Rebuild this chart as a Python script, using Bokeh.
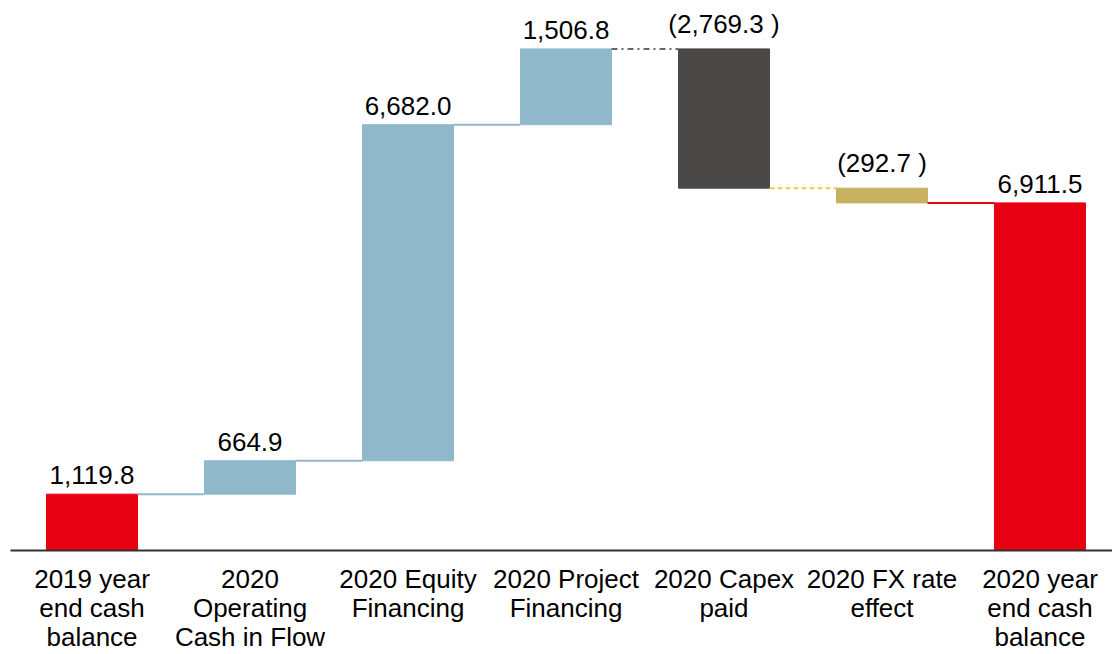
from bokeh.plotting import figure
from bokeh.models import Range1d, ColumnDataSource
from bokeh.embed import file_html
from bokeh.resources import INLINE
from bokeh.core.properties import value

categories = ["2019 year\nend cash\nbalance", "2020\nOperating\nCash in Flow",
              "2020 Equity\nFinancing", "2020 Project\nFinancing", "2020 Capex\npaid",
              "2020 FX rate\neffect", "2020 year\nend cash\nbalance"]
changes = [1119.8, 664.9, 6682.0, 1506.8, -2769.3, -292.7, 6911.5]
kinds = ["total", "up", "up", "up", "down", "down", "total"]
value_labels = ["1,119.8", "664.9", "6,682.0", "1,506.8", "(2,769.3 )", "(292.7 )", "6,911.5"]
bar_colors = ["#e60012", "#8fb8cb", "#8fb8cb", "#8fb8cb", "#4a4846", "#c8b15e", "#e60012"]
conn_colors = ["#8fb8cb", "#8fb8cb", "#8fb8cb", "#666666", "#f5c84c", "#e60012"]
conn_dashes = ["solid", "solid", "solid", "6 4 2 4", "5 3", "solid"]

FONT = "Liberation Sans"
BAR_W = 0.576

# waterfall geometry from data
bottoms, tops, levels = [], [], []
run = 0.0
for ch, k in zip(changes, kinds):
    if k == "total":
        b, t = 0.0, ch
        run = ch
    else:
        b, t = run, run + ch
        run = run + ch
    bottoms.append(min(b, t))
    tops.append(max(b, t))
    levels.append(run)

xs = list(range(len(categories)))
src = ColumnDataSource(dict(x=xs, bottom=bottoms, top=tops, color=bar_colors,
                            label=value_labels))

p = figure(width=1112, height=654, output_backend="svg", toolbar_location=None,
           x_range=Range1d(-0.516, 6.459), y_range=Range1d(0, 10936),
           y_axis_location=None, min_border_left=10, min_border_right=0,
           min_border_top=0, min_border_bottom=100)
p.outline_line_color = None
p.xgrid.grid_line_color = None
p.ygrid.grid_line_color = None
p.background_fill_color = "white"

p.vbar(x="x", bottom="bottom", top="top", width=BAR_W, color="color", source=src)

for i in range(len(categories) - 1):
    x0 = xs[i] + BAR_W / 2
    x1 = xs[i + 1] - BAR_W / 2
    lv = levels[i]
    p.line([x0, x1], [lv, lv], line_color=conn_colors[i], line_width=2,
           line_dash=conn_dashes[i])

p.text(x="x", y="top", text="label", source=src, text_align="center",
       text_baseline="bottom", y_offset=-10, text_font=value(FONT),
       text_font_size="26px", text_color="black")

ax = p.xaxis[0]
ax.ticker = xs
ax.major_label_overrides = {i: c for i, c in zip(xs, categories)}
ax.major_label_text_font = FONT
ax.major_label_text_font_size = "26px"
ax.major_label_text_color = "black"
ax.major_label_text_line_height = 0.97
ax.major_label_standoff = 7
ax.major_tick_line_color = None
ax.minor_tick_line_color = None
ax.axis_line_color = "#333333"
ax.axis_line_width = 2

open("out.html", "w").write(file_html(p, INLINE))
